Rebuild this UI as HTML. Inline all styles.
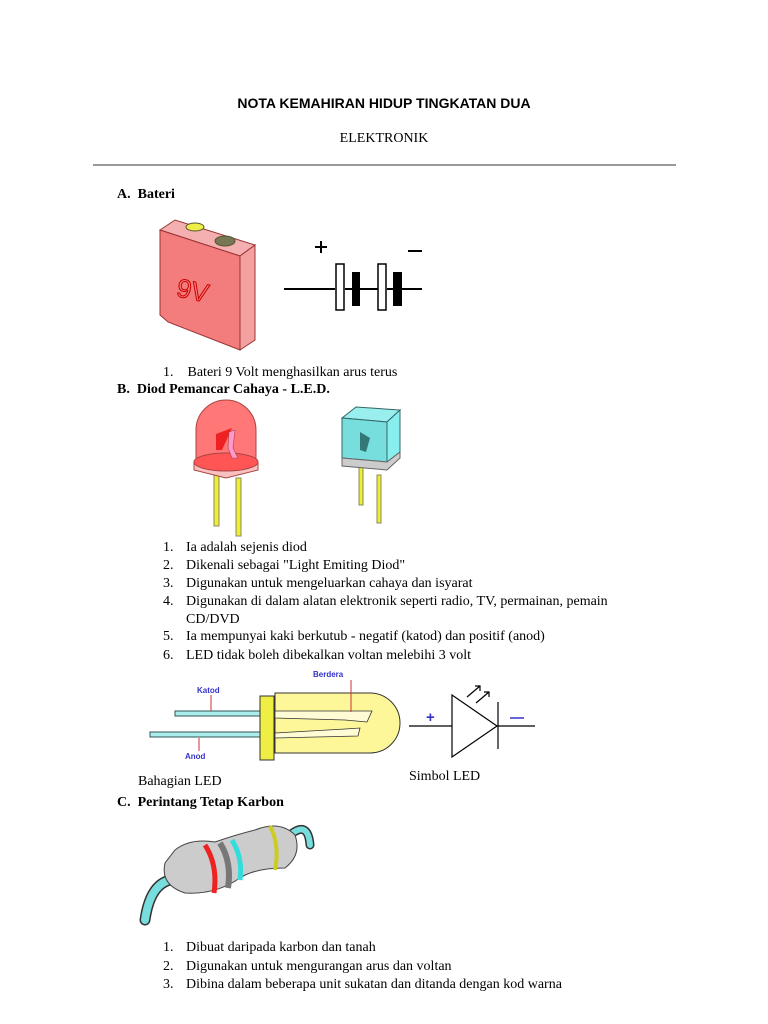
<!DOCTYPE html>
<html><head><meta charset="utf-8"><style>
body{margin:0;background:#fff;width:768px;height:1024px;position:relative;overflow:hidden;font-family:"Liberation Serif",serif;color:#000}
.t{position:absolute;white-space:nowrap;font-size:14px;line-height:16px}
.b{font-weight:bold}
svg{position:absolute;left:0;top:0}
</style></head><body>
<div class="t b" style="left:0;width:768px;text-align:center;top:95px;font-family:'Liberation Sans',sans-serif;font-size:14px">NOTA KEMAHIRAN HIDUP TINGKATAN DUA</div>
<div class="t" style="left:0;width:768px;text-align:center;top:131px;font-size:14px">ELEKTRONIK</div>
<div style="position:absolute;left:93px;top:164px;width:583px;height:2px;background:#999"></div>
<div class="t b" style="left:117px;top:187px">A.&nbsp;&nbsp;Bateri</div>
<div class="t" style="left:163px;top:365px">1.&nbsp;&nbsp;&nbsp;&nbsp;Bateri 9 Volt menghasilkan arus terus</div>
<div class="t b" style="left:117px;top:382px">B.&nbsp;&nbsp;Diod Pemancar Cahaya - L.E.D.</div>
<div class="t" style="left:163px;top:540px">1.</div><div class="t" style="left:186px;top:540px">Ia adalah sejenis diod</div>
<div class="t" style="left:163px;top:558px">2.</div><div class="t" style="left:186px;top:558px">Dikenali sebagai "Light Emiting Diod"</div>
<div class="t" style="left:163px;top:576px">3.</div><div class="t" style="left:186px;top:576px">Digunakan untuk mengeluarkan cahaya dan isyarat</div>
<div class="t" style="left:163px;top:594px">4.</div><div class="t" style="left:186px;top:594px">Digunakan di dalam alatan elektronik seperti radio, TV, permainan, pemain</div>
<div class="t" style="left:186px;top:612px">CD/DVD</div>
<div class="t" style="left:163px;top:629px">5.</div><div class="t" style="left:186px;top:629px">Ia mempunyai kaki berkutub - negatif (katod) dan positif (anod)</div>
<div class="t" style="left:163px;top:648px">6.</div><div class="t" style="left:186px;top:648px">LED tidak boleh dibekalkan voltan melebihi 3 volt</div>
<div class="t" style="left:138px;top:774px">Bahagian LED</div>
<div class="t" style="left:409px;top:769px">Simbol LED</div>
<div class="t b" style="left:117px;top:795px">C.&nbsp;&nbsp;Perintang Tetap Karbon</div>
<div class="t" style="left:163px;top:940px">1.</div><div class="t" style="left:186px;top:940px">Dibuat daripada karbon dan tanah</div>
<div class="t" style="left:163px;top:959px">2.</div><div class="t" style="left:186px;top:959px">Digunakan untuk mengurangan arus dan voltan</div>
<div class="t" style="left:163px;top:977px">3.</div><div class="t" style="left:186px;top:977px">Dibina dalam beberapa unit sukatan dan ditanda dengan kod warna</div>
<svg width="768" height="1024" viewBox="0 0 768 1024">
<!-- battery -->
<polygon points="160,230 175,220 255,245 240,256" fill="#f4b0b0" stroke="#933" stroke-width="1"/>
<polygon points="160,230 240,256 240,350 168,322 160,315" fill="#f37d7d" stroke="#933"/>
<polygon points="240,256 255,245 255,340 240,350" fill="#f5a0a0" stroke="#933"/>
<ellipse cx="195" cy="227" rx="9" ry="4" fill="#ee4" stroke="#553"/>
<ellipse cx="225" cy="241" rx="10" ry="5" fill="#775" stroke="#553"/>
<text x="176" y="300" font-family="Liberation Sans" font-size="26" fill="none" stroke="#c00" stroke-width="1" transform="rotate(12 195 295)">9V</text>
<!-- battery symbol -->
<g stroke="#000" stroke-width="2">
<line x1="284" y1="289" x2="335" y2="289"/><line x1="345" y1="289" x2="378" y2="289"/><line x1="387" y1="289" x2="422" y2="289"/>
<line x1="315" y1="247" x2="327" y2="247"/><line x1="321" y1="241" x2="321" y2="253"/>
<line x1="408" y1="251" x2="422" y2="251"/>
</g>
<rect x="336" y="264" width="8" height="46" fill="#fff" stroke="#000" stroke-width="1.5"/>
<rect x="352" y="272" width="8" height="34" fill="#000"/>
<rect x="378" y="264" width="8" height="46" fill="#fff" stroke="#000" stroke-width="1.5"/>
<rect x="393" y="272" width="9" height="34" fill="#000"/>
<!-- red LED -->
<rect x="214" y="474" width="5" height="52" fill="#ee3" stroke="#886"/>
<rect x="236" y="478" width="5" height="58" fill="#ee3" stroke="#886"/>
<path d="M196,465 L196,430 A28,28 0 0 1 256,430 L256,465 Z" fill="#f77" stroke="#a44"/>
<path d="M194,462 L194,470 L226,478 L258,470 L258,462" fill="#f9c0c0" stroke="#a44"/>
<ellipse cx="226" cy="462" rx="32" ry="9" fill="#f55" stroke="#a44"/>
<polygon points="216,434 232,428 222,450 216,450" fill="#e22"/>
<path d="M229,432 L235,430 L233,448 L238,458 L232,458 L228,448 Z" fill="#f9c" stroke="#a44" stroke-width="0.6"/>
<!-- cyan LED -->
<rect x="359" y="465" width="4" height="40" fill="#ee3" stroke="#886"/>
<rect x="377" y="475" width="4" height="48" fill="#ee3" stroke="#886"/>
<polygon points="342,418 356,407 400,410 387,422" fill="#9ee" stroke="#366"/>
<polygon points="342,418 387,422 387,462 342,458" fill="#7dd" stroke="#366"/>
<polygon points="387,422 400,410 400,452 387,462" fill="#8ee" stroke="#366"/>
<polygon points="342,458 387,462 400,452 400,458 387,470 342,466" fill="#ccc" stroke="#666"/>
<path d="M360,432 L370,438 L366,452 L360,450 Z" fill="#377"/>
<!-- LED parts -->
<rect x="175" y="711" width="86" height="5" fill="#aee" stroke="#355"/>
<rect x="150" y="732" width="111" height="5" fill="#aee" stroke="#355"/>
<path d="M275,693 L370,693 A30,30 0 0 1 370,753 L275,753 Z" fill="#fdf79a" stroke="#333"/>
<rect x="260" y="696" width="14" height="64" fill="#ee4" stroke="#333"/>
<path d="M275,711 L372,711 L367,722 L345,720 L275,718 Z" fill="#fffbd5" stroke="#333" stroke-width="0.8"/>
<path d="M275,733 L345,729 L360,728 L358,736 L275,738 Z" fill="#fffbd5" stroke="#333" stroke-width="0.8"/>
<g stroke="#c33" stroke-width="1"><line x1="211" y1="695" x2="211" y2="711"/><line x1="199" y1="738" x2="199" y2="751"/><line x1="351" y1="680" x2="351" y2="712"/></g>
<g font-family="Liberation Sans" font-size="8" fill="#33c" font-weight="bold"><text x="197" y="693">Katod</text><text x="185" y="759">Anod</text><text x="313" y="677">Berdera</text></g>
<!-- LED symbol -->
<g stroke="#000" stroke-width="1.2" fill="none">
<line x1="409" y1="726" x2="452" y2="726"/><line x1="497" y1="726" x2="535" y2="726"/>
<polygon points="452,695 452,757 497,726" fill="#fff"/><line x1="498" y1="702" x2="498" y2="749"/>
<line x1="467" y1="697" x2="480" y2="686"/><line x1="476" y1="703" x2="489" y2="692"/>
<polyline points="475,686 480,686 480,691"/><polyline points="484,692 489,692 489,697"/>
</g>
<text x="426" y="722" font-family="Liberation Sans" font-size="15" fill="#33c" font-weight="bold">+</text>
<line x1="510" y1="718" x2="524" y2="718" stroke="#33c" stroke-width="1.5"/>
<!-- resistor -->
<path d="M170,880 Q150,885 145,920" stroke="#333" stroke-width="11" fill="none" stroke-linecap="round"/>
<path d="M170,880 Q150,885 145,920" stroke="#7dd" stroke-width="8" fill="none" stroke-linecap="round"/>
<path d="M290,835 Q308,820 310,845" stroke="#333" stroke-width="9" fill="none" stroke-linecap="round"/>
<path d="M290,835 Q308,820 310,845" stroke="#7dd" stroke-width="6" fill="none" stroke-linecap="round"/>
<path d="M175,850 Q190,838 215,842 Q235,835 255,830 Q280,820 295,835 Q302,855 285,868 Q255,868 240,878 Q215,895 185,893 Q160,885 165,863 Z" fill="#ccc" stroke="#444"/>
<path d="M205,845 Q218,865 214,893" stroke="#e22" stroke-width="5" fill="none"/>
<path d="M220,843 Q232,862 228,888" stroke="#777" stroke-width="6" fill="none"/>
<path d="M232,840 Q243,858 240,880" stroke="#3dd" stroke-width="5" fill="none"/>
<path d="M270,826 Q280,845 275,870" stroke="#cc2" stroke-width="4" fill="none"/>
</svg>
</body></html>
